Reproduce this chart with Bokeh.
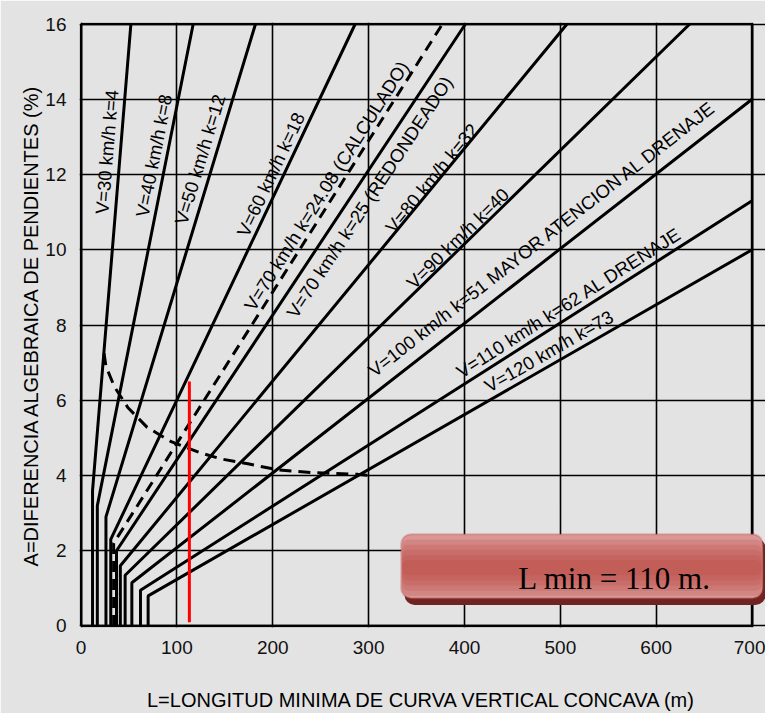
import math
from bokeh.plotting import figure
from bokeh.models import Range1d, FixedTicker, Label, BoxAnnotation, ColumnDataSource
from bokeh.core.properties import value
from bokeh.embed import file_html
from bokeh.resources import INLINE

# ---------------- data ----------------
X_TICKS = [0, 100, 200, 300, 400, 500, 600, 700]
Y_TICKS = [0, 2, 4, 6, 8, 10, 12, 14, 16]

# design lines: vertical at L_MIN up to A_BREAK, then straight to (L_END, A_END)
L_MIN = [12, 17, 26, 31, 34, 37, 41, 46, 53, 62, 70]
A_BREAK = [3.6, 3.2, 2.9, 2.3, 2.2, 2.0, 1.6, 1.35, 1.15, 0.95, 0.8]
L_END = [52, 117, 182, 286, 377, 401, 507, 635, 700, 700, 700]
A_END = [16, 16, 16, 16, 16, 16, 16, 16, 14.0, 11.3, 10.0]
DASHED = [False, False, False, False, True, False, False, False, False, False, False]

LABEL_TEXT = [
    "V=30 km/h k=4",
    "V=40 km/h k=8",
    "V=50 km/h k=12",
    "V=60 km/h k=18",
    "V=70 km/h k=24.08 (CALCULADO)",
    "V=70 km/h k=25 (REDONDEADO)",
    "V=80 km/h k=32",
    "V=90 km/h k=40",
    "V=100 km/h k=51 MAYOR ATENCION AL DRENAJE",
    "V=110 km/h k=62 AL DRENAJE",
    "V=120 km/h k=73",
]
LABEL_L = [27, 76, 124, 198, 256, 301, 366, 393, 481, 509, 488]
LABEL_A = [12.6, 12.5, 12.4, 12.0, 11.7, 11.4, 11.9, 10.3, 10.3, 8.6, 7.3]

# dashed limit curve
CURVE_L = [24, 26, 35, 49, 69, 94, 125, 146, 174, 205, 240, 289, 300]
CURVE_A = [7.25, 6.9, 6.35, 5.8, 5.28, 4.9, 4.6, 4.44, 4.31, 4.15, 4.08, 4.03, 4.0]

# red marker line (L min)
RED_L = [113, 113]
RED_A = [0.1, 6.5]

BOX_TEXT = "L min = 110 m."

# ---------------- figure ----------------
BG = "#e3e3e3"
X0, X1 = -1.6, 714.0
Y0, Y1 = -0.04, 16.04
W, H = 765, 713
ML, MR, MT, MB = 79, 0, 22, 84
FRAME_W = W - ML - MR
FRAME_H = H - MT - MB
XS = FRAME_W / (X1 - X0)
YS = FRAME_H / (Y1 - Y0)

p = figure(width=W, height=H, x_range=Range1d(X0, X1), y_range=Range1d(Y0, Y1),
           output_backend="svg", toolbar_location=None,
           min_border_left=ML, min_border_right=MR, min_border_top=MT, min_border_bottom=MB,
           background_fill_color=BG, border_fill_color=BG, outline_line_color=None)

for g, t in ((p.xgrid, X_TICKS), (p.ygrid, Y_TICKS)):
    g.ticker = FixedTicker(ticks=t)
    g.grid_line_color = "black"
    g.grid_line_width = 1.6

FONT = "Liberation Sans"
for ax, t in ((p.xaxis, X_TICKS), (p.yaxis, Y_TICKS)):
    ax.ticker = FixedTicker(ticks=t)
    ax.axis_line_color = None
    ax.major_tick_line_color = None
    ax.minor_tick_line_color = None
    ax.major_label_text_font = FONT
    ax.major_label_text_font_size = "19px"
    ax.major_label_text_color = "#111111"
    ax.axis_label_text_font = FONT
    ax.axis_label_text_font_size = "20px"
    ax.axis_label_text_font_style = "normal"
    ax.axis_label_text_color = "#000000"

p.xaxis.axis_label = "L=LONGITUD MINIMA DE CURVA VERTICAL CONCAVA (m)"
p.yaxis.axis_label = "A=DIFERENCIA ALGEBRAICA DE PENDIENTES (%)"
p.xaxis.major_label_standoff = 7
p.xaxis.axis_label_standoff = 32
p.yaxis.major_label_standoff = 7
p.yaxis.axis_label_standoff = 0

# frame border
bx0, bx1 = X_TICKS[0], X_TICKS[-1]
by0, by1 = Y_TICKS[0], Y_TICKS[-1]
p.multi_line(xs=[[bx0, bx1], [bx1, bx1], [bx1, bx0], [bx0, bx0]],
             ys=[[by0, by0], [by0, by1], [by1, by1], [by1, by0]],
             line_color="black", line_width=2.6)

# design lines
solid_xs, solid_ys = [], []
for lm, ab, le, ae, d in zip(L_MIN, A_BREAK, L_END, A_END, DASHED):
    xs = [lm, lm, le]
    ys = [0, ab, ae]
    if d:
        p.line(xs, ys, line_color="black", line_width=3, line_dash="11 7")
    else:
        solid_xs.append(xs)
        solid_ys.append(ys)
p.multi_line(xs=solid_xs, ys=solid_ys, line_color="black", line_width=3)

# dashed limit curve
p.line(CURVE_L, CURVE_A, line_color="black", line_width=3, line_dash="12 7")

# red line
p.line(RED_L, RED_A, line_color="#ff0000", line_width=3)

# labels along lines
angles = []
for lm, ab, le, ae in zip(L_MIN, A_BREAK, L_END, A_END):
    angles.append(math.atan2((ae - ab) * YS, (le - lm) * XS))
src = ColumnDataSource(dict(x=LABEL_L, y=LABEL_A, text=LABEL_TEXT, angle=angles))
p.text(x="x", y="y", text="text", angle="angle", source=src,
       text_font=value(FONT), text_font_size=value("18.5px"), text_color="black",
       text_align="center", text_baseline="middle")

# callout box
p.add_layout(BoxAnnotation(left=337.5, right=714, top=2.33, bottom=0.56,
                           fill_color="#6e2422", fill_alpha=1, line_color=None,
                           border_radius=10))
p.add_layout(BoxAnnotation(left=334, right=711, top=2.44, bottom=0.74,
                           fill_color="#d99896", fill_alpha=1, line_color="#b94a47",
                           line_width=2, border_radius=10))
mid = 1.55
half = (2.44 - 0.74) / 2
for f in (0.88, 0.72, 0.56, 0.40, 0.24):
    p.add_layout(BoxAnnotation(left=335, right=710, top=mid + half * f, bottom=mid - half * f,
                               fill_color="#b8403d", fill_alpha=0.2, line_color=None,
                               border_radius=6))
p.add_layout(Label(x=456, y=1.27, text=BOX_TEXT, text_font="Liberation Serif",
                   text_font_size="31px", text_color="black", text_baseline="alphabetic"))

open("out.html", "w").write(file_html(p, INLINE))
